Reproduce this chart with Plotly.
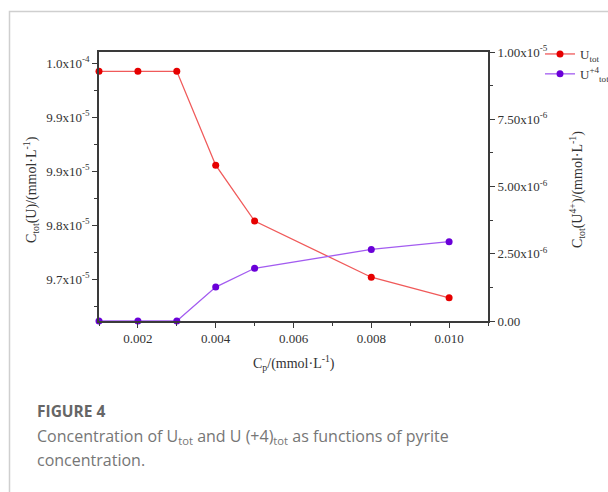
import plotly.graph_objects as go

# ---- data ----
cp = [0.001, 0.002, 0.003, 0.004, 0.005, 0.008, 0.010]
u_tot = [9.9896e-5, 9.9896e-5, 9.9896e-5, 9.868e-5, 9.7956e-5, 9.7227e-5, 9.6961e-5]
u4_tot = [0.0, 0.0, 0.0, 1.26e-6, 1.96e-6, 2.66e-6, 2.95e-6]

left_tick_values = [1.0e-4, 9.93e-5, 9.86e-5, 9.79e-5, 9.72e-5]
left_tick_labels = ["1.0x10<sup>-4</sup>", "9.9x10<sup>-5</sup>", "9.9x10<sup>-5</sup>",
                    "9.8x10<sup>-5</sup>", "9.7x10<sup>-5</sup>"]
left_minor_values = [9.965e-5, 9.895e-5, 9.825e-5, 9.755e-5, 9.685e-5]
right_tick_values = [0.0, 2.5e-6, 5.0e-6, 7.5e-6, 1.0e-5]
right_tick_labels = ["0.00", "2.50x10<sup>-6</sup>", "5.00x10<sup>-6</sup>",
                     "7.50x10<sup>-6</sup>", "1.00x10<sup>-5</sup>"]

# ---- layout geometry (pixels) ----
W, H = 608, 492
L, R, T, B = 99, 488, 52, 321


def px(x):
    return (x - L) / (R - L)


def py(y):
    return (B - y) / (B - T)


serif = "Liberation Serif"
axis_col = "#3a3a3a"

fig = go.Figure()
fig.add_trace(go.Scatter(
    x=cp, y=u_tot, name="U<sub>tot</sub>", mode="lines+markers",
    line=dict(color="#f05a5a", width=1.3),
    marker=dict(color="#e60000", size=7),
    cliponaxis=False, yaxis="y"))
fig.add_trace(go.Scatter(
    x=cp, y=u4_tot, name="U<sup>+4</sup><sub>tot</sub>", mode="lines+markers",
    line=dict(color="#a35cf0", width=1.3),
    marker=dict(color="#6a00d8", size=7),
    cliponaxis=False, yaxis="y2"))

tickfont = dict(family=serif, size=13, color="#333")

fig.update_layout(
    width=W, height=H,
    margin=dict(l=L, r=W - R, t=T, b=H - B, autoexpand=False),
    paper_bgcolor="white", plot_bgcolor="white",
    showlegend=True,
    legend=dict(x=px(540), y=py(39), xanchor="left", yanchor="top",
                font=dict(family=serif, size=13, color="#333"),
                bgcolor="rgba(0,0,0,0)", itemwidth=30, tracegroupgap=0),
    xaxis=dict(range=[0.001, 0.011], tickmode="linear", tick0=0.002, dtick=0.002,
               tickformat=".3f", ticks="outside", ticklen=5, tickwidth=1.2,
               tickcolor=axis_col, showline=True, linecolor=axis_col, linewidth=1.6,
               mirror=True, showgrid=False, zeroline=False, tickfont=tickfont,
               minor=dict(ticks="outside", ticklen=3, tickwidth=1.2, tickcolor=axis_col,
                          dtick=0.001, tick0=0.001, showgrid=False)),
    yaxis=dict(range=[9.666e-5, 1.001465e-4], tickmode="array",
               tickvals=left_tick_values, ticktext=left_tick_labels,
               ticks="outside", ticklen=5, tickwidth=1.2, tickcolor=axis_col,
               showline=True, linecolor=axis_col, linewidth=1.6,
               showgrid=False, zeroline=False, tickfont=tickfont,
               minor=dict(ticks="outside", ticklen=3, tickwidth=1.2, tickcolor=axis_col,
                          tickvals=left_minor_values, showgrid=False)),
    yaxis2=dict(range=[0, 1.0e-5], overlaying="y", side="right", tickmode="array",
                tickvals=right_tick_values, ticktext=right_tick_labels,
                ticks="outside", ticklen=5, tickwidth=1.2, tickcolor=axis_col,
                showline=True, linecolor=axis_col, linewidth=1.6,
                showgrid=False, zeroline=False, tickfont=tickfont,
                minor=dict(ticks="outside", ticklen=3, tickwidth=1.2, tickcolor=axis_col,
                           dtick=1.25e-6, tick0=0, showgrid=False)),
)

title_font = dict(family=serif, size=14, color="#333")
ann = [
    dict(text="C<sub>tot</sub>(U)/(mmol·L<sup>-1</sup>)", x=px(31), y=py(190),
         textangle=-90, font=title_font),
    dict(text="C<sub>tot</sub>(U<sup>4+</sup>)/(mmol·L<sup>-1</sup>)", x=px(577), y=py(190),
         textangle=-90, font=title_font),
    dict(text="C<sub>p</sub>/(mmol·L<sup>-1</sup>)", x=px(293.5), y=py(363),
         font=title_font),
    dict(text="<b>FIGURE 4</b>", x=px(35), y=py(411), xanchor="left",
         font=dict(family="Open Sans", size=15.5, color="#666")),
    dict(text="Concentration of U<sub>tot</sub> and U (+4)<sub>tot</sub> as functions of pyrite",
         x=px(35), y=py(436), xanchor="left",
         font=dict(family="Open Sans", size=16, color="#767676")),
    dict(text="concentration.", x=px(35), y=py(460), xanchor="left",
         font=dict(family="Open Sans", size=16, color="#767676")),
]
for a in ann:
    a.update(xref="paper", yref="paper", showarrow=False)
    a.setdefault("xanchor", "center")
    a.setdefault("yanchor", "middle")
fig.update_layout(annotations=ann)

# card border (left and top edges)
fig.add_shape(type="path", xref="paper", yref="paper",
              path=f"M {px(9.5)} {py(500)} L {px(9.5)} {py(11.5)} L {px(620)} {py(11.5)}",
              line=dict(color="#cfcfcf", width=1.5), layer="below")

fig.write_html("out.html")
